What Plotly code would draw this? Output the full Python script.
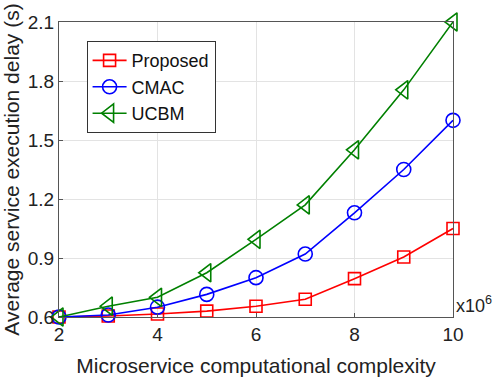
import plotly.graph_objects as go

x_vals = [2, 3, 4, 5, 6, 7, 8, 9, 10]
proposed = [0.60, 0.605, 0.615, 0.63, 0.655, 0.69, 0.795, 0.905, 1.05]
cmac = [0.60, 0.61, 0.65, 0.715, 0.80, 0.92, 1.13, 1.35, 1.60]
ucbm = [0.60, 0.655, 0.70, 0.825, 0.995, 1.17, 1.45, 1.755, 2.10]
x_ticks = [2, 4, 6, 8, 10]
y_ticks = [0.6, 0.9, 1.2, 1.5, 1.8, 2.1]

FONT = "Liberation Sans, Arial, sans-serif"

fig = go.Figure()
series = [
    ("Proposed", proposed, "#ff0000", "square-open", 12),
    ("CMAC", cmac, "#0000ff", "circle-open", 14),
    ("UCBM", ucbm, "#008000", "triangle-left-open", 16),
]
for name, ys, col, sym, sz in series:
    fig.add_trace(go.Scatter(
        x=x_vals, y=ys, name=name, mode="lines+markers",
        line=dict(color=col, width=1.6),
        marker=dict(symbol=sym, size=sz, color=col, line=dict(width=1.6, color=col)),
        cliponaxis=False,
    ))

axis_common = dict(
    showline=True, linecolor="#555555", linewidth=1, mirror=True,
    ticks="inside", ticklen=4, tickcolor="#555555",
    showgrid=True, gridcolor="#e3e3e3", gridwidth=1, zeroline=False,
    automargin=False,
    tickfont=dict(family=FONT, size=19, color="#222222"),
)
fig.update_xaxes(range=[2, 10], tickvals=x_ticks, ticktext=[str(v) for v in x_ticks],
                 title=dict(text="Microservice computational complexity",
                            font=dict(family=FONT, size=21, color="#222222")),
                 **axis_common)
fig.update_yaxes(range=[0.6, 2.1], tickvals=y_ticks, ticktext=[f"{v:.1f}" for v in y_ticks],
                 title=dict(text="Average service execution delay (s)",
                            font=dict(family=FONT, size=21, color="#222222")),
                 **axis_common)

fig.add_annotation(x=1.0, y=0.0, xref="paper", yref="paper", xanchor="left", yanchor="bottom",
                   xshift=1, yshift=-1, showarrow=False, text="x10<sup>6</sup>",
                   font=dict(family=FONT, size=18, color="#222222"))

fig.update_layout(
    width=498, height=377,
    margin=dict(l=59, r=45, t=22, b=60, autoexpand=False),
    paper_bgcolor="white", plot_bgcolor="white",
    showlegend=True,
    legend=dict(x=0.07, y=0.935, xanchor="left", yanchor="top",
                bgcolor="white", bordercolor="#333333", borderwidth=1,
                font=dict(family=FONT, size=18, color="#111111"),
                itemwidth=34, tracegroupgap=0),
)

fig.write_html("out.html", config={"displayModeBar": False},
               post_script="document.body.style.margin='0';document.body.style.overflow='hidden';")
